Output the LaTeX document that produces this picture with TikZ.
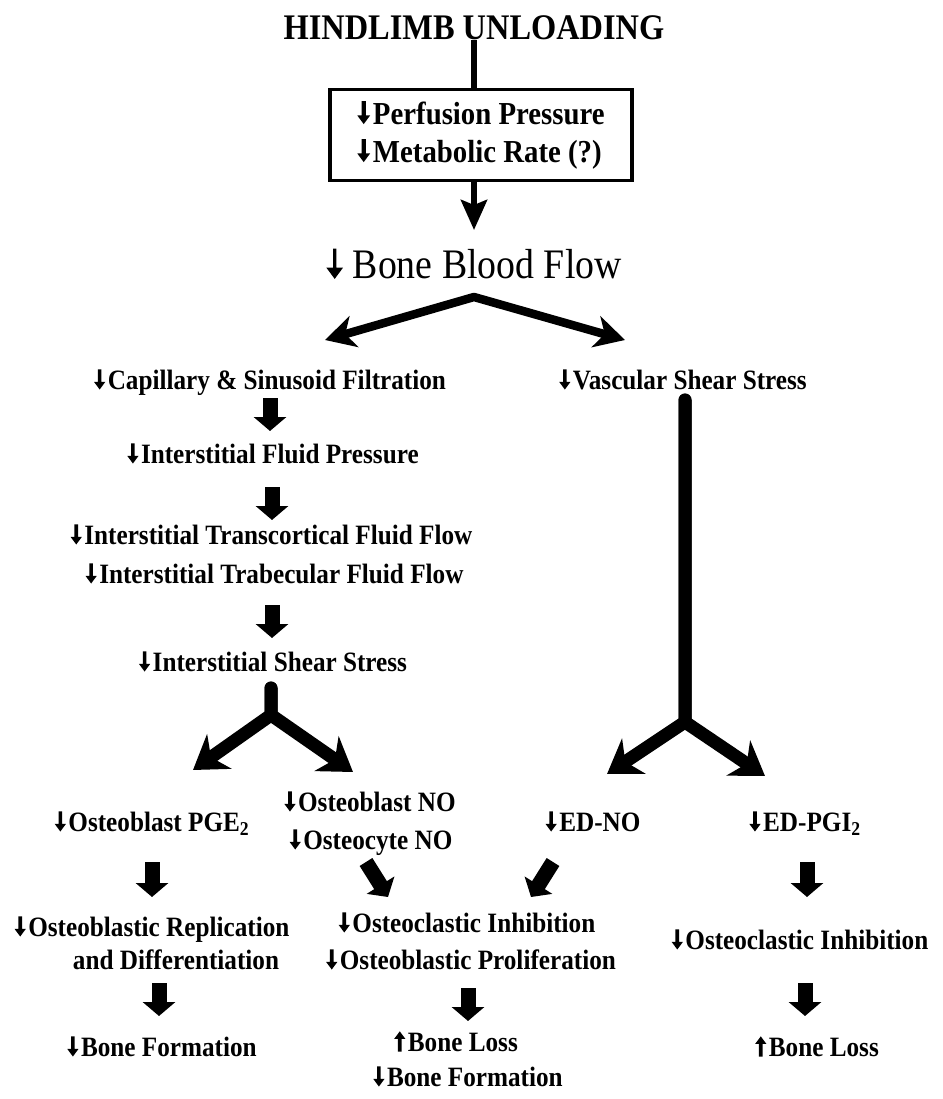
\documentclass[tikz,border=0pt]{standalone}
\usepackage{fontspec}
\setmainfont{Liberation Serif}
\newfontfamily\cond[FakeStretch=0.9]{Liberation Serif}
\usetikzlibrary{arrows.meta}
\newcommand\dnar[1][0.065]{\tikz[baseline=0pt,x=1em,y=1em]\fill (-#1,0.72)--(#1,0.72)--(#1,0.27)--(0.2,0.27)--(0,0)--(-0.2,0.27)--(-#1,0.27)--cycle;\kern0.09em}
\newcommand\upar[1][0.065]{\tikz[baseline=0pt,x=1em,y=1em]\fill (-#1,0)--(#1,0)--(#1,0.45)--(0.2,0.45)--(0,0.72)--(-0.2,0.45)--(-#1,0.45)--cycle;\kern0.09em}
\begin{document}
\begin{tikzpicture}[x=1pt,y=-1pt,
  lab/.style={font=\cond\bfseries\fontsize{28}{30}\selectfont, inner sep=0pt, text height=19pt, text depth=6pt},
  ttl/.style={font=\cond\bfseries\fontsize{36}{40}\selectfont, inner sep=0pt},
  bbfs/.style={font=\cond\fontsize{42}{44}\selectfont, inner sep=0pt},
  boxs/.style={draw, line width=3.5pt, font=\cond\bfseries\fontsize{32}{36}\selectfont, align=left, minimum width=302pt, minimum height=91pt, inner sep=0pt},
  thinline/.style={line width=6pt},
  midarrow/.style={line width=6pt, -{Stealth[length=30pt,width=26pt,inset=5pt]}},
  dbl/.style={line width=8.5pt, line join=round, {Stealth[length=30pt,width=32pt,inset=9pt]}-{Stealth[length=30pt,width=32pt,inset=9pt]}},
  yarr/.style={line width=13pt, line cap=round, line join=round, -{Stealth[length=32pt,width=42pt,inset=10pt]}},
  vline/.style={line width=11pt},
  fat/.style={line width=15pt, -{Triangle[length=14pt,width=32pt]}}
]
\useasboundingbox (0,0) rectangle (942,1099);
\fill[white] (0,0) rectangle (942,1099);

% nodes
\node[ttl] (t) at (474,28) {HINDLIMB UNLOADING};
\node[boxs] (box) at (481,135) {\dnar Perfusion Pressure\\[2pt]\dnar Metabolic Rate (?)};
\node[bbfs] (bbf) at (474,264) {\dnar[0.04]\kern6pt Bone Blood Flow};
\node[lab] (cap) at (270,383) {\dnar Capillary \& Sinusoid Filtration};
\node[lab] (vas) at (683,383) {\dnar Vascular Shear Stress};
\node[lab] (ifp) at (273,457) {\dnar Interstitial Fluid Pressure};
\node[lab] (tc) at (271.5,538) {\dnar Interstitial Transcortical Fluid Flow};
\node[lab] (tb) at (274.5,577) {\dnar Interstitial Trabecular Fluid Flow};
\node[lab] (iss) at (273,665) {\dnar Interstitial Shear Stress};
\node[lab] (pge) at (152,825) {\dnar Osteoblast PGE\textsubscript{2}};
\node[lab] (obno) at (370,805) {\dnar Osteoblast NO};
\node[lab] (ocno) at (371,843) {\dnar Osteocyte NO};
\node[lab] (edno) at (593,825) {\dnar ED-NO};
\node[lab] (edpgi) at (805,825) {\dnar ED-PGI\textsubscript{2}};
\node[lab] (rep1) at (152,930) {\dnar Osteoblastic Replication};
\node[lab] (rep2) at (176,963) {and Differentiation};
\node[lab] (inh1) at (467,926) {\dnar Osteoclastic Inhibition};
\node[lab] (prol) at (471,963) {\dnar Osteoblastic Proliferation};
\node[lab] (inh2) at (800,943) {\dnar Osteoclastic Inhibition};
\node[lab] (bf1) at (162,1050) {\dnar Bone Formation};
\node[lab] (bl1) at (456,1045) {\upar Bone Loss};
\node[lab] (bf2) at (468,1080) {\dnar Bone Formation};
\node[lab] (bl2) at (817,1050) {\upar Bone Loss};

% free ends
\coordinate (bbftip) at (474,230);
\coordinate (apex) at (474,297);
\coordinate (dl) at (325,340);
\coordinate (dr) at (625,340);
\coordinate (ys1) at (271,688);
\coordinate (yj1) at (271,715);
\coordinate (yl1) at (193,770);
\coordinate (yr1) at (353,772);
\coordinate (vtop) at (685,400);
\coordinate (yj2) at (685,722);
\coordinate (yl2) at (607,774);
\coordinate (yr2) at (765,776);

% connectors
\draw[thinline] (t.south) -- (t.south |- box.north);
\draw[midarrow] (t.south |- box.south) -- (bbftip);
\draw[dbl] (dl) -- (apex) -- (dr);

\draw[fat] (cap.south |- 0,398) -- (cap.south |- 0,431);
\draw[fat] (272,487) -- (272,520);
\draw[fat] (272,605) -- (272,638);

\draw[yarr] (ys1) -- (yj1) -- (yl1);
\draw[yarr] (ys1) -- (yj1) -- (yr1);
\draw[vline] (vtop) -- (yj2);
\draw[yarr] (vtop) -- (yj2) -- (yl2);
\draw[yarr] (vtop) -- (yj2) -- (yr2);

\draw[fat] (pge.south |- 0,862) -- (pge.south |- 0,897);
\draw[fat] (366,862) -- (388,897);
\draw[fat] (553,862) -- (531,897);
\draw[fat] (807,862) -- (807,897);

\draw[fat] (159,983) -- (159,1016);
\draw[fat] (468,988) -- (468,1021);
\draw[fat] (805,983) -- (805,1016);
\end{tikzpicture}
\end{document}
